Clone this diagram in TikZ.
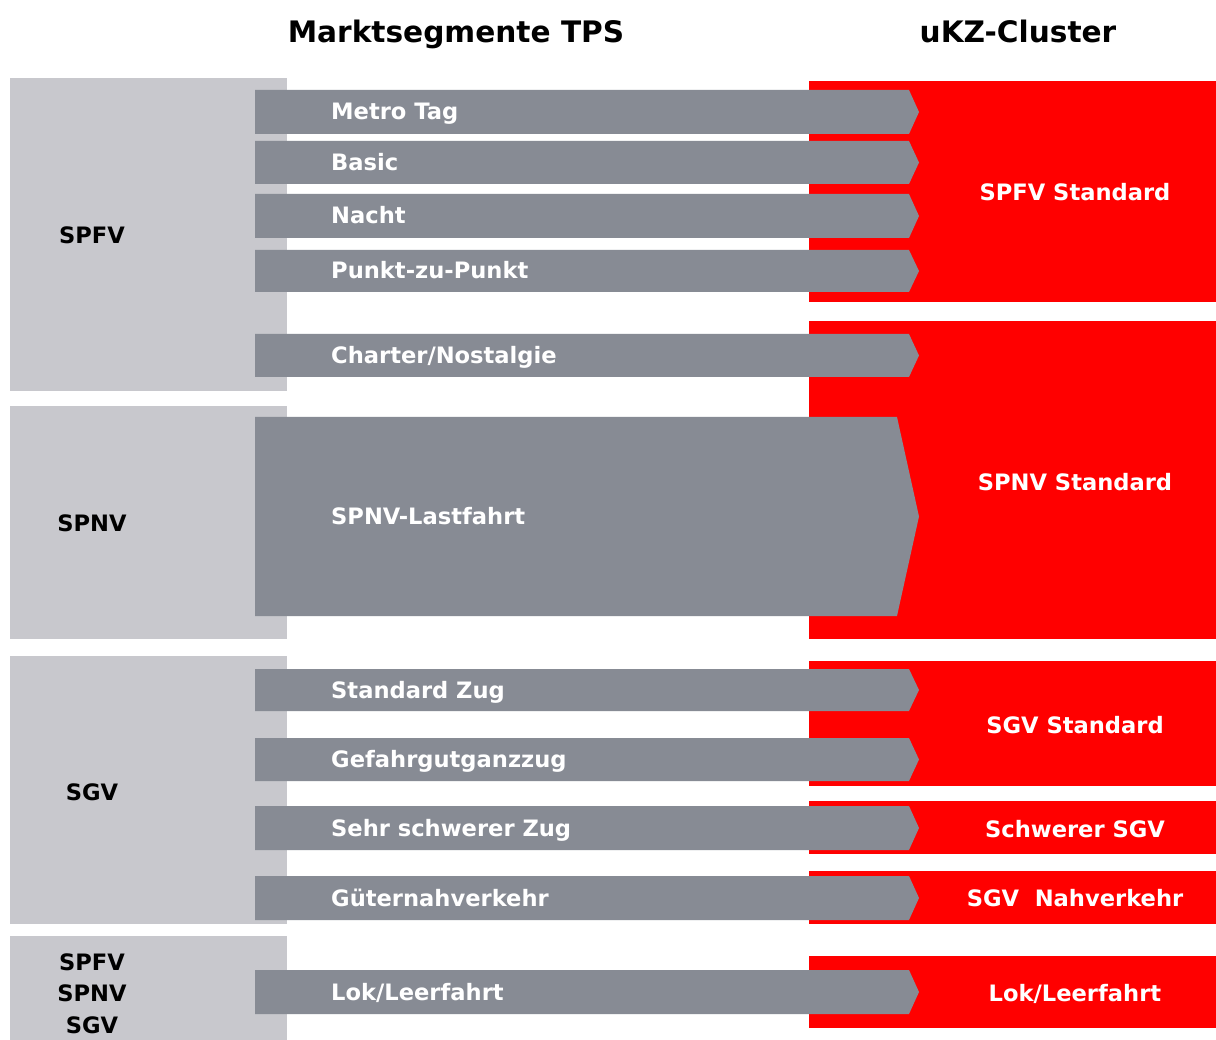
\documentclass[tikz,border=0pt]{standalone}
\usepackage{fontspec}
\setmainfont{DejaVu Sans}
\definecolor{catgray}{HTML}{C8C8CD}
\definecolor{arrgray}{HTML}{878B94}
\definecolor{dbred}{HTML}{FF0000}
\newcommand{\segarrow}[5]{%
  \fill[arrgray] (255,#2) -- (#4,#2) -- (919,{(#2+#3)/2}) -- (#4,#3) -- (255,#3) -- cycle;
  \node[arrlabel] (#1) at (331,{(#2+#3)/2+8}) {#5};}
\begin{document}
\begin{tikzpicture}[x=1pt,y=-1pt,
  catbox/.style={fill=catgray, draw=none, inner sep=0pt, anchor=north west},
  redbox/.style={fill=dbred, draw=none, inner sep=0pt, anchor=north west},
  arrlabel/.style={anchor=base west, text=white, font=\fontsize{22.6}{24}\selectfont\bfseries, inner sep=0pt},
  catlabel/.style={anchor=base, text=black, font=\fontsize{22.6}{24}\selectfont\bfseries, inner sep=0pt},
  redlabel/.style={anchor=base, text=white, font=\fontsize{22.6}{24}\selectfont\bfseries, inner sep=0pt},
  header/.style={anchor=base, text=black, font=\fontsize{29.6}{34}\selectfont\bfseries, inner sep=0pt}]
\useasboundingbox (0,0) rectangle (1216,1040);
\fill[white] (0,0) rectangle (1216,1040);
% headers
\node[header] (h1) at (456,43) {Marktsegmente TPS};
\node[header] (h2) at (1018,43) {uKZ-Cluster};
% category boxes
\node[catbox, minimum width=277pt, minimum height=313pt] (cspfv) at (10,78) {};
\node[catbox, minimum width=277pt, minimum height=233pt] (cspnv) at (10,406) {};
\node[catbox, minimum width=277pt, minimum height=268pt] (csgv) at (10,656) {};
\node[catbox, minimum width=277pt, minimum height=104pt] (call) at (10,936) {};
\node[catlabel] (lspfv) at (92,244) {SPFV};
\node[catlabel] (lspnv) at (92,531) {SPNV};
\node[catlabel] (lsgv) at (92,800) {SGV};
\node[catlabel] (lall1) at (92,970) {SPFV};
\node[catlabel] (lall2) at (92,1001) {SPNV};
\node[catlabel] (lall3) at (92,1033) {SGV};
% red boxes
\node[redbox, minimum width=407pt, minimum height=221pt] (rspfv) at (809,81) {};
\node[redbox, minimum width=407pt, minimum height=318pt] (rspnv) at (809,321) {};
\node[redbox, minimum width=407pt, minimum height=125pt] (rsgv) at (809,661) {};
\node[redbox, minimum width=407pt, minimum height=53pt] (rschw) at (809,801) {};
\node[redbox, minimum width=407pt, minimum height=53pt] (rnah) at (809,871) {};
\node[redbox, minimum width=407pt, minimum height=72pt] (rlok) at (809,956) {};
\node[redlabel] (tspfv) at (1075,201) {SPFV Standard};
\node[redlabel] (tspnv) at (1075,490) {SPNV Standard};
\node[redlabel] (tsgv) at (1075,733) {SGV Standard};
\node[redlabel] (tschw) at (1075,837) {Schwerer SGV};
\node[redlabel] (tnah) at (1075,906) {SGV\ \ Nahverkehr};
\node[redlabel] (tlok) at (1075,1001) {Lok/Leerfahrt};
% arrows
\segarrow{a1}{90}{134}{909}{Metro Tag}
\segarrow{a2}{141}{184}{909}{Basic}
\segarrow{a3}{194}{238}{909}{Nacht}
\segarrow{a4}{250}{292}{909}{Punkt-zu-Punkt}
\segarrow{a5}{334}{377}{909}{Charter/Nostalgie}
\segarrow{a6}{417}{616}{897}{SPNV-Lastfahrt}
\segarrow{a7}{669}{711}{909}{Standard Zug}
\segarrow{a8}{738}{781}{909}{Gefahrgutganzzug}
\segarrow{a9}{806}{850}{909}{Sehr schwerer Zug}
\segarrow{a10}{876}{920}{909}{Güternahverkehr}
\segarrow{a11}{970}{1014}{909}{Lok/Leerfahrt}
\end{tikzpicture}
\end{document}
